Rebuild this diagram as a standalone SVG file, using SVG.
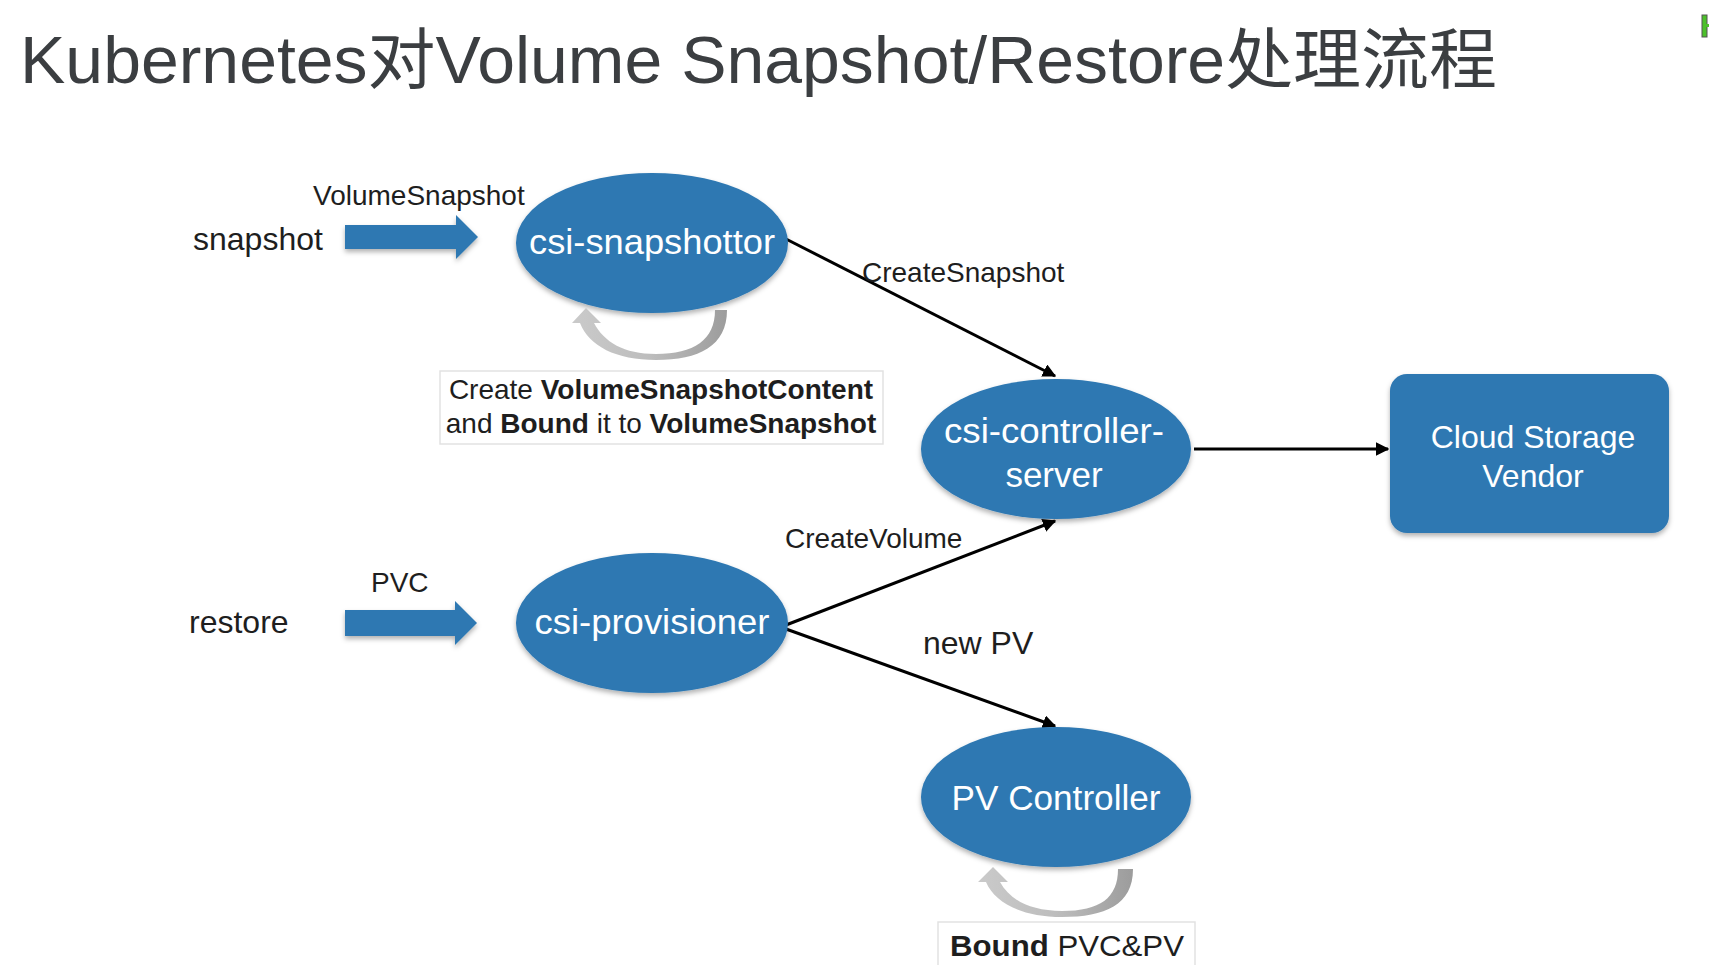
<svg xmlns="http://www.w3.org/2000/svg" width="1709" height="965" viewBox="0 0 1709 965">
  <style>
    text { font-family: "Liberation Sans", Arial, "Noto Sans CJK SC", sans-serif; }
    .title { font-size: 66px; fill: #3b3e41; }
    .lbl { font-size: 28px; fill: #1e1e1e; }
    .lbl-l { font-size: 32px; fill: #1e1e1e; }
    .node-t { font-size: 35px; fill: #ffffff; text-anchor: middle; }
    .node-s { font-size: 32px; fill: #ffffff; text-anchor: middle; }
    .node { fill: #2e78b2; filter: url(#shadow); }
    .edge { stroke: #000; stroke-width: 3; fill: none; marker-end: url(#arrow); }
    .fat { fill: #2e78b2; filter: url(#shadow); }
    .note { fill: #ffffff; stroke: #e2e2e2; stroke-width: 1.5; }
    .loop { fill: url(#loopGrad); }
    .b { font-weight: bold; }
  </style>
  <defs>
    <filter id="shadow" x="-10%" y="-10%" width="120%" height="130%">
      <feDropShadow dx="0" dy="3" stdDeviation="2.5" flood-color="#000" flood-opacity="0.3"/>
    </filter>
    <marker id="arrow" viewBox="0 0 10 10" refX="9" refY="5" markerWidth="4.5" markerHeight="4.5" orient="auto" markerUnits="strokeWidth">
      <path d="M0,0 L10,5 L0,10 Z" fill="#000"/>
    </marker>
    <linearGradient id="loopGrad" x1="0" y1="0" x2="1" y2="0">
      <stop offset="0" stop-color="#cacaca"/>
      <stop offset="0.5" stop-color="#bdbdbd"/>
      <stop offset="1" stop-color="#9c9c9c"/>
    </linearGradient>
  </defs>

  <rect x="0" y="0" width="1709" height="965" fill="#ffffff"/>

  <text class="title" x="20" y="83" textLength="1477" lengthAdjust="spacingAndGlyphs">Kubernetes对Volume Snapshot/Restore处理流程</text>

  <g id="corner-mark">
    <rect x="1702" y="15" width="5" height="22" fill="#4cc02a" stroke="#555" stroke-width="1"/>
    <rect x="1706" y="24" width="3" height="3" fill="#4cc02a"/>
  </g>

  <g id="connectors">
    <line class="edge" x1="786" y1="239" x2="1055" y2="376"/>
    <line class="edge" x1="1194" y1="449" x2="1388" y2="449"/>
    <line class="edge" x1="786" y1="625" x2="1055" y2="521"/>
    <line class="edge" x1="786" y1="629" x2="1055" y2="726"/>
  </g>

  <g id="input-snapshot">
    <text class="lbl-l" x="193" y="250">snapshot</text>
    <text class="lbl" x="313" y="205">VolumeSnapshot</text>
    <path class="fat" d="M345,225 L456,225 L456,215 L478,237 L456,259 L456,249 L345,249 Z"/>
  </g>

  <g id="input-restore">
    <text class="lbl-l" x="189" y="633">restore</text>
    <text class="lbl" x="371" y="592">PVC</text>
    <path class="fat" d="M345,610 L455,610 L455,601 L477,623 L455,645 L455,636 L345,636 Z"/>
  </g>

  <g id="csi-snapshottor">
    <ellipse class="node" cx="652" cy="243" rx="136" ry="70"/>
    <text class="node-t" x="652" y="254" textLength="246" lengthAdjust="spacingAndGlyphs">csi-snapshottor</text>
  </g>

  <g id="snapshottor-loop">
    <path class="loop" d="M727,310 C727,346 699,360 656,360 C616,360 589,346 580,323 L572,323 L586,308 L601,323 L594,323 C604,342 624,354 656,354 C694,354 715,340 715,310 Z"/>
  </g>

  <g id="note-snapshot">
    <rect class="note" x="440" y="371" width="443" height="73"/>
    <text class="lbl" x="661" y="399" text-anchor="middle">Create <tspan class="b">VolumeSnapshotContent</tspan></text>
    <text class="lbl" x="661" y="433" text-anchor="middle">and <tspan class="b">Bound</tspan> it to <tspan class="b">VolumeSnapshot</tspan></text>
  </g>

  <g id="label-createsnapshot">
    <text class="lbl" x="862" y="282">CreateSnapshot</text>
  </g>

  <g id="csi-controller-server">
    <ellipse class="node" cx="1056" cy="449" rx="135" ry="70"/>
    <text class="node-t" x="1054" y="443" textLength="220" lengthAdjust="spacingAndGlyphs">csi-controller-</text>
    <text class="node-t" x="1054" y="487">server</text>
  </g>

  <g id="cloud-storage-vendor">
    <rect class="node" x="1390" y="374" width="279" height="159" rx="17" ry="17"/>
    <text class="node-s" x="1533" y="448">Cloud Storage</text>
    <text class="node-s" x="1533" y="487">Vendor</text>
  </g>

  <g id="label-createvolume">
    <text class="lbl" x="785" y="548">CreateVolume</text>
  </g>

  <g id="csi-provisioner">
    <ellipse class="node" cx="652" cy="623" rx="136" ry="70"/>
    <text class="node-t" x="652" y="634" textLength="235" lengthAdjust="spacingAndGlyphs">csi-provisioner</text>
  </g>

  <g id="label-newpv">
    <text class="lbl-l" x="923" y="654">new PV</text>
  </g>

  <g id="pv-controller">
    <ellipse class="node" cx="1056" cy="797" rx="135" ry="70"/>
    <text class="node-t" x="1056" y="810" textLength="209" lengthAdjust="spacingAndGlyphs">PV Controller</text>
  </g>

  <g id="pv-loop">
    <path class="loop" d="M1133,869 C1133,905 1105,917 1062,917 C1022,917 995,903 986,882 L978,882 L993,867 L1008,882 L1000,882 C1010,900 1030,911 1062,911 C1100,911 1118,898 1118,869 Z"/>
  </g>

  <g id="note-bound">
    <rect class="note" x="938" y="922" width="257" height="60"/>
    <text class="lbl" x="950" y="956" style="font-size:30px" textLength="234" lengthAdjust="spacingAndGlyphs"><tspan class="b">Bound</tspan> PVC&amp;PV</text>
  </g>
</svg>
